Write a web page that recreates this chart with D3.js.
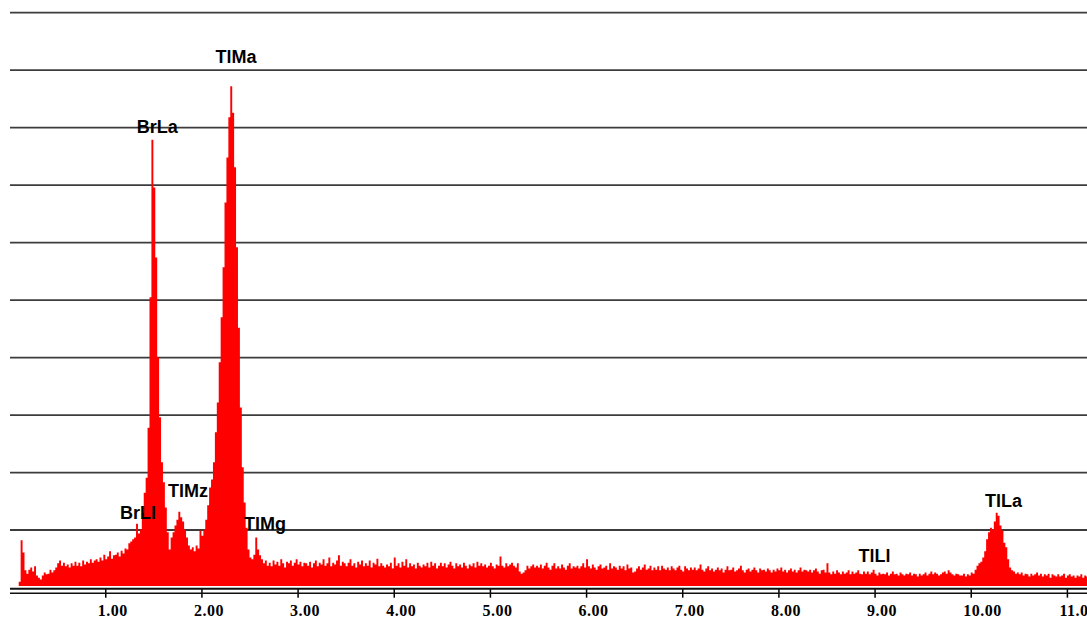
<!DOCTYPE html>
<html>
<head>
<meta charset="utf-8">
<script src="https://cdn.jsdelivr.net/npm/d3@7"></script>
<style>
  body { margin: 0; background: #fff; overflow: hidden; }
  .peak { font-family: "Liberation Sans", Arial, sans-serif; font-size: 18px; font-weight: bold; fill: #000; }
  .axis text { font-family: "Liberation Serif", "Times New Roman", serif; font-size: 16px; font-weight: bold; fill: #000; letter-spacing: 0.5px; }
</style>
</head>
<body>
<script>
// channel layout of the spectrum (keV)
const firstChannel = 0.10;
const channelWidth = 0.02;

// counts per channel, 10 channels (0.2 keV) per row, from 0.10 keV
const counts = [
  10, 82, 61, 30, 24, 31, 35, 28, 37, 21,
  17, 14, 21, 26, 23, 24, 31, 26, 30, 35,
  42, 47, 38, 43, 37, 40, 35, 42, 38, 45,
  38, 43, 37, 47, 40, 45, 42, 49, 43, 47,
  49, 45, 52, 47, 57, 49, 54, 63, 50, 56,
  57, 61, 54, 64, 59, 68, 66, 77, 80, 84,
  87, 111, 94, 101, 130, 165, 191, 278, 505, 779,
  696, 574, 400, 296, 218, 183, 139, 96, 66, 87,
  96, 108, 118, 132, 122, 115, 101, 87, 73, 66,
  70, 63, 73, 68, 99, 90, 101, 118, 143, 174,
  188, 218, 270, 322, 392, 470, 557, 670, 748, 818,
  872, 826, 731, 592, 452, 313, 209, 148, 104, 66,
  52, 49, 57, 87, 66, 56, 49, 42, 47, 38,
  43, 37, 47, 40, 45, 38, 49, 42, 35, 45,
  42, 47, 38, 43, 49, 40, 45, 37, 43, 42,
  38, 45, 35, 42, 47, 37, 43, 40, 49, 38,
  42, 52, 37, 43, 40, 47, 56, 38, 45, 42,
  37, 43, 49, 38, 42, 35, 45, 40, 47, 37,
  42, 38, 47, 35, 43, 40, 50, 37, 42, 38,
  35, 40, 37, 43, 33, 52, 38, 42, 35, 45,
  38, 49, 35, 42, 37, 40, 33, 43, 38, 35,
  40, 37, 43, 35, 45, 38, 42, 33, 38, 43,
  37, 42, 35, 40, 45, 38, 33, 42, 37, 40,
  35, 43, 38, 33, 40, 37, 42, 35, 45, 38,
  42, 37, 40, 35, 38, 43, 37, 33, 40, 38,
  54, 38, 35, 42, 37, 40, 43, 38, 35, 42,
  28, 24, 26, 30, 38, 33, 37, 40, 35, 38,
  35, 40, 33, 38, 43, 35, 31, 38, 42, 33,
  37, 33, 40, 35, 31, 38, 42, 33, 37, 35,
  38, 33, 37, 42, 35, 49, 37, 33, 40, 35,
  31, 37, 40, 33, 35, 38, 31, 42, 33, 37,
  35, 31, 38, 33, 37, 30, 40, 33, 35, 26,
  28, 33, 37, 31, 35, 40, 31, 33, 38, 30,
  35, 31, 37, 30, 38, 33, 31, 35, 30, 37,
  33, 30, 35, 38, 31, 28, 37, 33, 30, 35,
  31, 35, 30, 33, 40, 31, 28, 33, 37, 30,
  33, 28, 31, 35, 30, 33, 26, 31, 37, 30,
  31, 35, 28, 30, 33, 38, 30, 26, 31, 33,
  28, 31, 35, 30, 26, 33, 30, 31, 28, 33,
  30, 26, 31, 28, 33, 30, 35, 28, 31, 26,
  30, 33, 28, 31, 26, 30, 35, 28, 31, 30,
  28, 31, 26, 30, 33, 28, 24, 30, 31, 26,
  42, 26, 23, 28, 24, 30, 26, 23, 28, 24,
  26, 30, 23, 28, 24, 26, 30, 24, 23, 28,
  24, 28, 23, 26, 31, 24, 21, 26, 23, 24,
  23, 26, 21, 24, 28, 23, 24, 21, 26, 23,
  21, 24, 23, 26, 21, 24, 23, 19, 24, 21,
  23, 26, 21, 24, 28, 23, 26, 24, 21, 23,
  26, 28, 24, 30, 26, 23, 21, 24, 23, 21,
  21, 24, 19, 23, 21, 26, 24, 31, 38, 42,
  45, 52, 63, 84, 96, 104, 101, 115, 130, 125,
  108, 99, 78, 70, 49, 35, 30, 28, 24, 26,
  23, 26, 21, 24, 23, 19, 24, 21, 23, 26,
  21, 24, 19, 23, 21, 24, 17, 23, 21, 19,
  23, 19, 21, 24, 17, 21, 23, 19, 21, 17,
  21, 19, 23, 17, 21, 19, 23, 21, 17, 19
];

// axis ticks (keV) and horizontal grid (counts)
const tickValues = [1, 2, 3, 4, 5, 6, 7, 8, 9, 10, 11];
const gridValues = [100, 200, 300, 400, 500, 600, 700, 800, 900, 1000];

// peak labels: name, energy (keV), height of label baseline (counts)
const peakNames = ["TlMa", "BrLa", "TlMz", "BrLl", "TlMg", "TlLl", "TlLa"];
const peakEnergy = [2.36, 1.54, 1.86, 1.34, 2.66, 9.00, 10.34];
const peakLabelAt = [913, 791, 157, 119, 100, 44, 140];

const W = 1087, H = 619;

const svg = d3.select("body")
  .append("svg")
  .attr("width", W)
  .attr("height", H);

const xScale = d3.scaleLinear()
  .domain([0, 11])
  .range([9.1, 1066.9]);
const yScale = d3.scaleLinear()
  .domain([0, 1000])
  .range([587.5, 12.7]);

// grid
svg.append("g")
  .selectAll("line")
  .data(gridValues)
  .enter()
  .append("line")
  .attr("x1", 10)
  .attr("x2", W)
  .attr("y1", d => yScale(d))
  .attr("y2", d => yScale(d))
  .attr("stroke", "#3c3c3c")
  .attr("stroke-width", 1.8);

// spectrum as a step area
const pts = counts.map((c, i) => [firstChannel + i * channelWidth, c]);
pts.push([firstChannel + counts.length * channelWidth, counts[counts.length - 1]]);

const area = d3.area()
  .curve(d3.curveStepAfter)
  .x(d => xScale(d[0]))
  .y0(yScale(0) - 1.5)
  .y1(d => yScale(d[1]));

svg.append("path")
  .datum(pts)
  .attr("d", area)
  .attr("fill", "#ff0000");

// x-axis with double base line
const axisY = 588.7;
const xAxis = d3.axisBottom(xScale)
  .tickValues(tickValues)
  .tickSize(9)
  .tickFormat(d3.format(".2f"));

const gx = svg.append("g")
  .attr("class", "axis")
  .attr("transform", `translate(0, ${axisY})`)
  .call(xAxis);

gx.select(".domain").remove();
gx.selectAll(".tick line").attr("stroke", "#000").attr("stroke-width", 1.5);
gx.selectAll(".tick text")
  .attr("text-anchor", "start")
  .attr("x", -8)
  .attr("y", 27.5)
  .attr("dy", 0);

gx.append("line")
  .attr("x1", 10).attr("x2", W)
  .attr("y1", 0).attr("y2", 0)
  .attr("stroke", "#111").attr("stroke-width", 2);
gx.append("line")
  .attr("x1", 10).attr("x2", W)
  .attr("y1", 4.6).attr("y2", 4.6)
  .attr("stroke", "#111").attr("stroke-width", 1.4);

// peak labels
svg.append("g")
  .selectAll("text")
  .data(peakNames)
  .enter()
  .append("text")
  .attr("class", "peak")
  .attr("x", (d, i) => xScale(peakEnergy[i]))
  .attr("y", (d, i) => yScale(peakLabelAt[i]))
  .attr("text-anchor", "middle")
  .text(d => d);
</script>
</body>
</html>
